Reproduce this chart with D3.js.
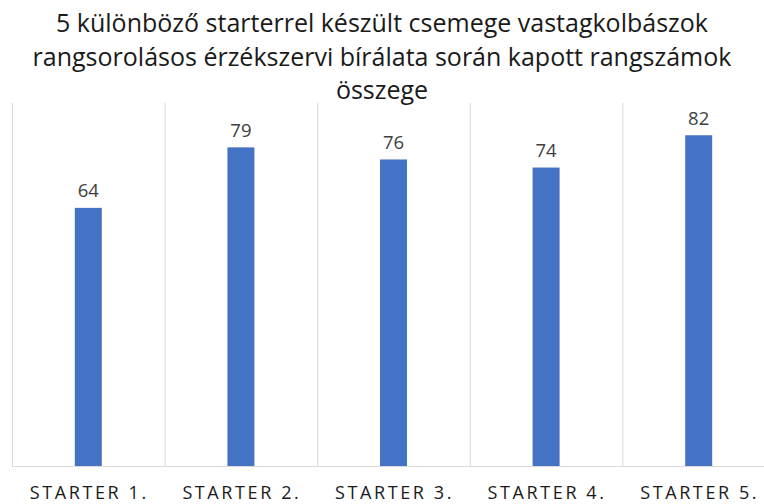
<!DOCTYPE html>
<html>
<head>
<meta charset="utf-8">
<script src="https://cdn.jsdelivr.net/npm/d3@7"></script>
<style>
  body { margin: 0; background: #fff; }
  svg { display: block; }
</style>
</head>
<body>
<svg></svg>
<script>
const categories = ["STARTER 1.", "STARTER 2.", "STARTER 3.", "STARTER 4.", "STARTER 5."];
const values = [64, 79, 76, 74, 82];
const titleLines = [
  "5 különböző starterrel készült csemege vastagkolbászok",
  "rangsorolásos érzékszervi bírálata során kapott rangszámok",
  "összege"
];

const width = 764, height = 504;
const plot = { left: 12, right: 775, top: 103, bottom: 466 };
const font = "'Open Sans', 'Noto Sans', sans-serif";

const svg = d3.select("svg")
  .attr("width", width)
  .attr("height", height);

const x = d3.scaleBand()
  .domain(categories)
  .range([plot.left, plot.right])
  .paddingInner(0)
  .paddingOuter(0);

const y = d3.scaleLinear()
  .domain([0, 90])
  .range([plot.bottom, plot.top]);

// vertical separators between categories
const bounds = categories.map(c => x(c));
svg.append("g")
  .selectAll("line")
  .data(bounds)
  .join("line")
  .attr("x1", d => d + 0.5)
  .attr("x2", d => d + 0.5)
  .attr("y1", plot.top)
  .attr("y2", plot.bottom)
  .style("stroke", "#d9d9d9")
  .style("stroke-width", 1);

// baseline
svg.append("line")
  .attr("x1", plot.left)
  .attr("x2", plot.right)
  .attr("y1", plot.bottom + 0.5)
  .attr("y2", plot.bottom + 0.5)
  .style("stroke", "#d9d9d9")
  .style("stroke-width", 1);

const barW = 27;
svg.append("g")
  .selectAll("rect")
  .data(values)
  .join("rect")
  .attr("x", (d, i) => x(categories[i]) + x.bandwidth() / 2 - barW / 2)
  .attr("y", d => y(d))
  .attr("width", barW)
  .attr("height", d => plot.bottom - y(d))
  .style("fill", "#4472c4");

svg.append("g")
  .selectAll("text")
  .data(values)
  .join("text")
  .attr("x", (d, i) => x(categories[i]) + x.bandwidth() / 2)
  .attr("y", d => y(d) - 10.5)
  .attr("text-anchor", "middle")
  .style("font-family", font)
  .style("font-size", "18.5px")
  .style("fill", "#404040")
  .text(d => d);

// category labels
svg.append("g")
  .selectAll("text")
  .data(categories)
  .join("text")
  .attr("x", d => x(d) + x.bandwidth() / 2 + 1)
  .attr("y", 499)
  .attr("text-anchor", "middle")
  .style("font-family", font)
  .style("font-size", "18px")
  .style("letter-spacing", "2.6px")
  .style("fill", "#1a1a1a")
  .text(d => d);

svg.append("g")
  .selectAll("text")
  .data(titleLines)
  .join("text")
  .attr("x", width / 2)
  .attr("y", (d, i) => 32 + i * 33.5)
  .attr("text-anchor", "middle")
  .style("font-family", font)
  .style("font-size", "25px")
  .style("fill", "#1a1a1a")
  .text(d => d);
</script>
</body>
</html>
